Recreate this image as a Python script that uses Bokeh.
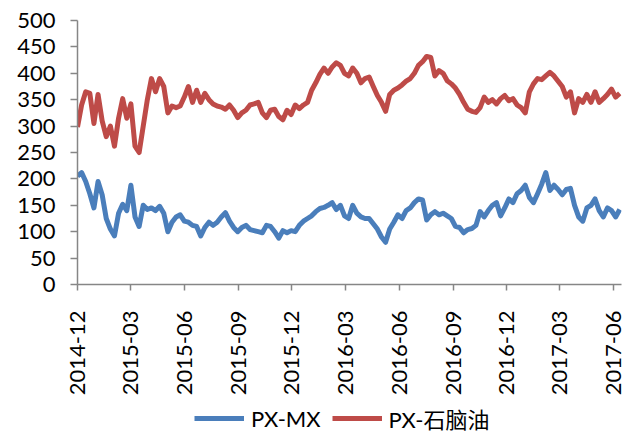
import pandas as pd
from bokeh.plotting import figure
from bokeh.layouts import column
from bokeh.models import (Range1d, FixedTicker, DatetimeTickFormatter, Legend, LegendItem,
                          ColumnDataSource)
from bokeh.embed import file_html
from bokeh.resources import INLINE
from math import pi

# ---- data (weekly readings from the reference) ----
start_date = "2014-12-01"
n_weeks = 133
dates = pd.date_range(start_date, periods=n_weeks, freq="7D")

px_naphtha = [298, 340, 365, 362, 305, 360, 310, 280, 300, 262, 315, 352, 315, 342, 262, 250, 300, 350, 390, 365,
              390, 375, 325, 338, 335, 338, 355,
              375, 345, 368, 345, 362, 350, 342, 338, 336, 332, 340, 330, 316, 325, 330, 340, 342, 345, 325, 316,
              330, 332, 318, 312, 330, 322, 340, 333,
              340, 345, 368, 382, 398, 410, 400, 412, 420, 415, 400, 395, 410, 400, 382, 390, 393, 375, 358, 345,
              328, 360, 368, 372, 378,
              385, 390, 400, 415, 422, 432, 430, 395, 405, 400, 386, 380, 372, 360, 345, 332, 328, 326, 335, 355,
              345, 350, 342, 352, 358, 348, 352, 340,
              335, 325, 365, 380, 390, 388, 395, 402, 395, 385, 375, 355, 365, 325, 352, 345, 360, 345, 365, 345,
              352, 360, 370, 355, 362]

px_mx = [205, 212, 195, 172, 145, 195, 170, 125, 105, 92, 135, 152, 140, 188, 128, 110, 150, 142, 145, 140,
         148, 135, 100, 118, 128, 132, 120,
         118, 112, 110, 92, 108, 118, 112, 118, 128, 136, 120, 108, 100, 108, 112, 104, 102, 100, 98, 112,
         110, 100, 88, 102, 98, 102, 100, 112,
         120, 125, 130, 138, 144, 146, 150, 155, 142, 150, 130, 125, 150, 135, 128, 125, 125, 115, 105, 90, 80,
         105, 118, 132, 125, 140, 145, 155, 162, 160, 122, 132, 138, 132, 135, 130, 125, 110, 108, 98, 104,
         106, 112, 138, 128, 140, 150, 155, 130, 145, 162, 155,
         172, 178, 188, 165, 155, 172, 190, 212, 178, 188, 180, 170, 180, 182, 150, 128, 120, 145, 150, 162,
         140, 128, 145, 140, 128, 142]

tick_labels = ["2014-12", "2015-03", "2015-06", "2015-09", "2015-12", "2016-03",
               "2016-06", "2016-09", "2016-12", "2017-03", "2017-06"]
y_ticks = [0, 50, 100, 150, 200, 250, 300, 350, 400, 450, 500]

series_names = ["PX-MX", "PX-石脑油"]
series_colors = ["#4A7EBB", "#BE4B48"]

# ---- main figure ----
x_start = pd.Timestamp("2014-12-01")
x_end = pd.Timestamp("2017-06-15")

p = figure(frame_width=544, frame_height=264, x_axis_type="datetime",
           x_range=Range1d(x_start, x_end), y_range=Range1d(0, 500),
           output_backend="svg", toolbar_location=None,
           min_border_left=77, min_border_right=8, min_border_top=20, min_border_bottom=0)

p.outline_line_color = None
p.xgrid.visible = False
p.ygrid.visible = False
p.background_fill_color = "white"
p.border_fill_color = "white"

src = ColumnDataSource(dict(x=dates, mx=px_mx, nap=px_naphtha))
r1 = p.line("x", "mx", source=src, line_color=series_colors[0], line_width=5, line_join="round")
r2 = p.line("x", "nap", source=src, line_color=series_colors[1], line_width=5, line_join="round")

font = "Lato, 'Noto Sans CJK SC', sans-serif"
axis_color = "#868686"

# y axis
p.yaxis.ticker = FixedTicker(ticks=y_ticks)
p.yaxis.axis_line_color = axis_color
p.yaxis.axis_line_width = 1.5
p.yaxis.major_tick_line_color = axis_color
p.yaxis.major_tick_line_width = 1.5
p.yaxis.major_tick_out = 7
p.yaxis.major_tick_in = 0
p.yaxis.minor_tick_line_color = None
p.yaxis.major_label_text_font = font
p.yaxis.major_label_text_font_size = "22px"
p.yaxis.major_label_text_color = "#000000"
p.yaxis.major_label_standoff = 15

# x axis
tick_ms = [pd.Timestamp(t + "-01").value // 10**6 for t in tick_labels]
p.xaxis.ticker = FixedTicker(ticks=tick_ms)
fmt = "%Y-%m"
p.xaxis.formatter = DatetimeTickFormatter(milliseconds=fmt, seconds=fmt, minsec=fmt, minutes=fmt,
                                          hourmin=fmt, hours=fmt, days=fmt, months=fmt, years=fmt)
p.xaxis.major_label_orientation = pi / 2
p.xaxis.axis_line_color = axis_color
p.xaxis.axis_line_width = 1.5
p.xaxis.major_tick_line_color = axis_color
p.xaxis.major_tick_line_width = 1.5
p.xaxis.major_tick_out = 6
p.xaxis.major_tick_in = 0
p.xaxis.minor_tick_line_color = None
p.xaxis.major_label_text_font = font
p.xaxis.major_label_text_font_size = "22px"
p.xaxis.major_label_text_color = "#000000"
p.xaxis.major_label_standoff = 20

# ---- legend strip (separate small figure below the chart) ----
# same series drawn out of view so that only their legend swatches show
leg = figure(width=629, height=36, output_backend="svg", toolbar_location=None,
             x_axis_type="datetime", x_range=Range1d(x_start, x_end), y_range=Range1d(-1000, -999),
             x_axis_location=None, y_axis_location=None,
             min_border_left=0, min_border_right=0, min_border_top=0, min_border_bottom=0)
leg.outline_line_color = None
leg.xgrid.visible = False
leg.ygrid.visible = False
k1 = leg.line("x", "mx", source=src, line_color=series_colors[0], line_width=5)
k2 = leg.line("x", "nap", source=src, line_color=series_colors[1], line_width=5)

legend = Legend(items=[LegendItem(label=series_names[0], renderers=[k1]),
                       LegendItem(label=series_names[1], renderers=[k2])],
                orientation="horizontal", location=(117, 0),
                label_text_font=font, label_text_font_size="22px", label_text_color="#000000",
                glyph_width=50, glyph_height=20, label_height=20, label_standoff=7, spacing=11,
                padding=0, margin=0, border_line_color=None, background_fill_alpha=0)
leg.add_layout(legend, "center")

layout = column(p, leg, spacing=0)
open("out.html", "w").write(file_html(layout, INLINE))
